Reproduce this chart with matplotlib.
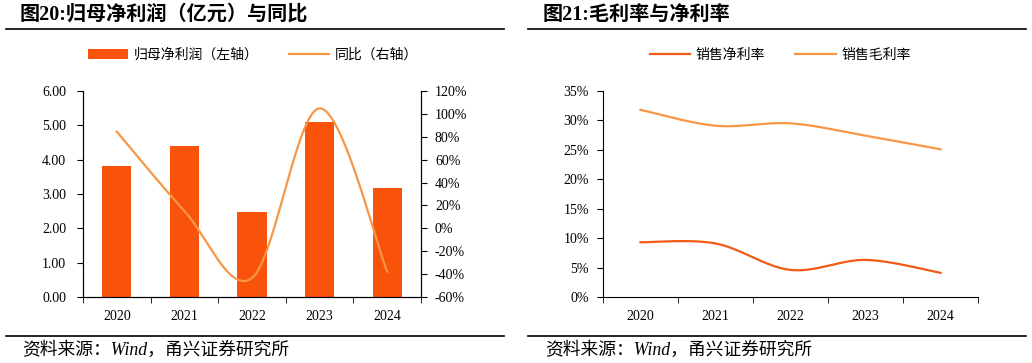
import numpy as np
import matplotlib.pyplot as plt
from matplotlib.lines import Line2D
from matplotlib.ticker import FuncFormatter

years = ['2020', '2021', '2022', '2023', '2024']
net_profit = [3.82, 4.40, 2.49, 5.10, 3.17]          # 亿元
yoy = [84.5, 15.2, -43.4, 104.8, -37.8]               # %
net_margin = [9.3, 9.1, 4.6, 6.3, 4.1]                # %
gross_margin = [31.8, 29.1, 29.5, 27.4, 25.1]         # %

BAR = '#F9530B'
LIGHT = '#F79646'
RED = '#F25A17'
SERIF = ['Liberation Serif', 'Noto Sans CJK SC']
CJK = ['Noto Sans CJK SC', 'DejaVu Sans']

plt.rcParams['font.family'] = SERIF
plt.rcParams['axes.linewidth'] = 0.8


def smooth(x, y, sx=1.0, sy=1.0, n=40):
    # Excel-style smoothed line (Catmull-Rom Bezier in screen proportions)
    p = np.column_stack([np.asarray(x, float) * sx, np.asarray(y, float) * sy])
    out = []
    for i in range(len(p) - 1):
        p0 = p[i - 1] if i > 0 else p[i]
        p3 = p[i + 2] if i + 2 < len(p) else p[i + 1]
        c1 = p[i] + (p[i + 1] - p0) / 6
        c2 = p[i + 1] - (p3 - p[i]) / 6
        t = np.linspace(0, 1, n)[:, None]
        seg = ((1 - t) ** 3 * p[i] + 3 * (1 - t) ** 2 * t * c1
               + 3 * (1 - t) * t ** 2 * c2 + t ** 3 * p[i + 1])
        out.append(seg if i == 0 else seg[1:])
    out = np.vstack(out)
    return out[:, 0] / sx, out[:, 1] / sy


def style_x(ax):
    ax.set_xlim(-0.5, len(years) - 0.5)
    ax.set_xticks(range(len(years)))
    ax.set_xticklabels(years, fontsize=10)
    ax.set_xticks(np.arange(-0.5, len(years)), minor=True)
    ax.tick_params(axis='x', which='major', length=0, pad=9)
    ax.tick_params(axis='x', which='minor', length=4, direction='out')


fig = plt.figure(figsize=(10.32, 3.63), dpi=100)
x = np.arange(len(years))

# ---- 图20 ----
ax1 = fig.add_axes([83 / 1032, 1 - 297 / 363, 338 / 1032, 206 / 363])
ax1.bar(x, net_profit, width=0.43, color=BAR, label='归母净利润（左轴）')
ax1.set_ylim(0, 6)
ax1.set_yticks(np.arange(0, 6.01, 1))
ax1.yaxis.set_major_formatter(FuncFormatter(lambda v, p: f'{v:.2f}'))
ax1.tick_params(axis='y', length=4, direction='out', pad=8, labelsize=10)
style_x(ax1)
ax1.spines['top'].set_visible(False)

ax2 = ax1.twinx()
sx, sy = smooth(x, yoy, sx=67.6, sy=206 / 180)
ax2.plot(sx, sy, color=LIGHT, lw=1.6, label='同比（右轴）')
ax2.set_ylim(-60, 120)
ax2.set_yticks(np.arange(-60, 121, 20))
ax2.yaxis.set_major_formatter(FuncFormatter(lambda v, p: f'{v:.0f}%'))
ax2.tick_params(axis='y', length=4, direction='out', pad=6, labelsize=10)
ax2.spines['top'].set_visible(False)

h1, l1 = ax1.get_legend_handles_labels()
h2, l2 = ax2.get_legend_handles_labels()
fig.legend(h1 + h2, l1 + l2, loc='center', bbox_to_anchor=(253 / 1032, 1 - 55 / 363),
           ncol=2, frameon=False, prop={'family': CJK, 'size': 10},
           handlelength=2.9, handleheight=0.8, columnspacing=2.2, handletextpad=0.4)

# ---- 图21 ----
ax3 = fig.add_axes([603 / 1032, 1 - 297 / 363, 375 / 1032, 206 / 363])
mx, my = smooth(x, net_margin, sx=75, sy=206 / 35)
gx, gy = smooth(x, gross_margin, sx=75, sy=206 / 35)
ax3.plot(mx, my, color=RED, lw=1.6, label='销售净利率')
ax3.plot(gx, gy, color=LIGHT, lw=1.6, label='销售毛利率')
ax3.set_ylim(0, 35)
ax3.set_yticks(np.arange(0, 36, 5))
ax3.yaxis.set_major_formatter(FuncFormatter(lambda v, p: f'{v:.0f}%'))
ax3.tick_params(axis='y', length=4, direction='out', pad=6, labelsize=10)
style_x(ax3)
ax3.spines['top'].set_visible(False)
ax3.spines['right'].set_visible(False)
fig.legend(*ax3.get_legend_handles_labels(), loc='center',
           bbox_to_anchor=(780 / 1032, 1 - 55 / 363), ncol=2, frameon=False,
           prop={'family': CJK, 'size': 10}, handlelength=2.9,
           columnspacing=2.2, handletextpad=0.4)

# ---- titles, rules and sources ----
for x0, x1, tx, title in [(6, 504, 20, '图20:归母净利润（亿元）与同比'),
                          (528, 1026, 543, '图21:毛利率与净利率')]:
    fig.text(tx / 1032, 1 - 15 / 363, title, fontsize=14.5, fontweight='bold',
             family=SERIF, va='center', ha='left')
    fig.add_artist(Line2D([x0 / 1032, x1 / 1032], [1 - 29 / 363] * 2,
                          color='black', lw=1.2, transform=fig.transFigure))
    fig.add_artist(Line2D([x0 / 1032, x1 / 1032], [1 - 336 / 363] * 2,
                          color='black', lw=1.2, transform=fig.transFigure))
    fig.text((tx + 2) / 1032, 1 - 350 / 363, '资料来源：Wind，甬兴证券研究所',
             fontsize=12.8, style='italic', family=SERIF, va='center', ha='left')

fig.savefig('out.png', dpi=100)
